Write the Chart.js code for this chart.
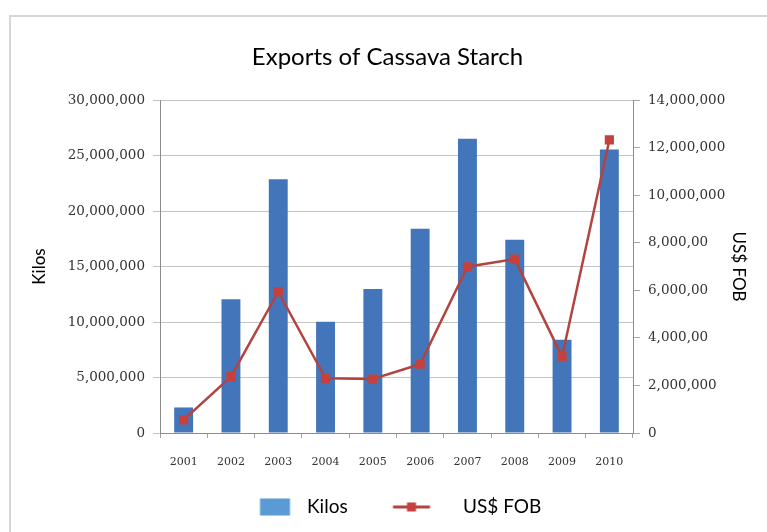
<!DOCTYPE html>
<html>
<head>
<meta charset="utf-8">
<title>Exports of Cassava Starch</title>
<script src="https://cdn.jsdelivr.net/npm/chart.js@4"></script>
<style>
  html, body { margin: 0; padding: 0; background: #fff; }
  #wrap { position: relative; width: 767px; height: 532px; overflow: hidden; }
  #frame { position: absolute; left: 9px; top: 15px; width: 820px; height: 620px; border: 2px solid #d6d6d6; }
  #chart { position: absolute; left: 0; top: 0; }
</style>
</head>
<body>
<div id="wrap">
  <div id="frame"></div>
  <canvas id="chart" width="767" height="532"></canvas>
</div>
<script>
// yearly exports
const years = ["2001", "2002", "2003", "2004", "2005", "2006", "2007", "2008", "2009", "2010"];
const kilos = [2300000, 12050000, 22850000, 10030000, 12970000, 18400000, 26500000, 17400000, 8400000, 25550000];
const fobUsd = [550000, 2370000, 5940000, 2300000, 2270000, 2890000, 6990000, 7310000, 3210000, 12320000];

// axis labels as printed
const kilosTicks = ["0", "5,000,000", "10,000,000", "15,000,000", "20,000,000", "25,000,000", "30,000,000"];
const fobTicks = ["0", "2,000,000", "4,000,00", "6,000,00", "8,000,00", "10,000,000", "12,000,000", "14,000,000"];

const BAR_BLUE = "#4375ba";
const LINE_RED = "#b3433f";
const MARK_RED = "#c4413d";
const TICK_COLOR = "#333";
const TICK_FONT = { family: "DejaVu Serif", size: 13.5 };
const AXIS_TITLE_FONT = { family: "Lato", size: 17, lineHeight: 1 };
const LEGEND_SIZE = 19;

const W = 767, H = 532;
const plotLeft = 160, plotRight = 633, plotTop = 100, plotBottom = 433;
const yearLabelY = 462;

// legend spacing so that the entry texts start at x=307 and x=463
const mctx = document.createElement("canvas").getContext("2d");
mctx.font = LEGEND_SIZE + "px Lato";
const tw1 = mctx.measureText("Kilos").width;
const tw2 = mctx.measureText("US$ FOB").width;
const text1X = 307, text2X = 463, legendY = 507;

// full-width boxes (title, legend) are centred on x = 387.5;
// legend box height is font + gap + 10
const pad = { left: 8, right: 0, top: 0 };
const legendCenter = (pad.left + W - pad.right) / 2;
const itemGap = 2 * (legendCenter - text1X) - tw1 - tw2;
const boxW = text2X - text1X - tw1 - itemGap - LEGEND_SIZE / 2;
const legendTop = legendY - LEGEND_SIZE / 2 - itemGap;
pad.bottom = H - (legendY + LEGEND_SIZE / 2 + 10);

// swatch and line marker drawn into canvases used as legend point styles
const ICON_W = 140, ICON_H = 18;
function iconCanvas(textX) {
  const c = document.createElement("canvas");
  c.width = ICON_W; c.height = ICON_H;
  // page x of this canvas's left edge once the legend centres it in its box
  const left = textX - LEGEND_SIZE / 2 - boxW / 2 - ICON_W / 2;
  return { c, g: c.getContext("2d"), left };
}
function swatchImage() {
  const { c, g, left } = iconCanvas(text1X);
  g.fillStyle = "#5b9bd5";
  g.fillRect(260 - left, 0.5, 30, 17);
  return c;
}
function markerImage() {
  const { c, g, left } = iconCanvas(text2X);
  const x0 = 393 - left;
  g.strokeStyle = LINE_RED;
  g.lineWidth = 3;
  g.beginPath(); g.moveTo(x0, 9); g.lineTo(x0 + 37, 9); g.stroke();
  g.fillStyle = MARK_RED;
  g.fillRect(x0 + 14, 4.5, 9, 9);
  return c;
}
const legendIcons = [swatchImage(), markerImage()];

new Chart(document.getElementById("chart"), {
  type: "bar",
  data: {
    labels: years,
    datasets: [
      {
        type: "line",
        label: "US$ FOB",
        data: fobUsd,
        yAxisID: "y1",
        order: 0,
        borderColor: LINE_RED,
        borderWidth: 2.5,
        tension: 0,
        pointStyle: "rect",
        pointRadius: 6.5,
        pointBackgroundColor: MARK_RED,
        pointBorderColor: MARK_RED,
        pointBorderWidth: 0
      },
      {
        type: "bar",
        label: "Kilos",
        data: kilos,
        yAxisID: "y",
        order: 1,
        backgroundColor: BAR_BLUE,
        borderWidth: 0,
        barPercentage: 0.4,
        categoryPercentage: 1.0
      }
    ]
  },
  options: {
    responsive: false,
    animation: false,
    devicePixelRatio: 1,
    layout: { padding: pad },
    plugins: {
      title: {
        display: true,
        text: "Exports of Cassava Starch",
        color: "#000",
        font: { family: "Lato", size: 24, weight: "normal", lineHeight: 1.2 },
        padding: { top: 57 - 14.4, bottom: plotTop - 57 - 14.4 }
      },
      legend: {
        position: "bottom",
        labels: {
          usePointStyle: true,
          pointStyleWidth: boxW,
          padding: itemGap,
          color: "#000",
          font: { family: "Lato", size: LEGEND_SIZE },
          generateLabels: () => [
            { text: "Kilos", pointStyle: legendIcons[0], fontColor: "#000", lineWidth: 0, datasetIndex: 1 },
            { text: "US$ FOB", pointStyle: legendIcons[1], fontColor: "#000", lineWidth: 0, datasetIndex: 0 }
          ]
        }
      },
      tooltip: { enabled: false }
    },
    scales: {
      x: {
        grid: { drawOnChartArea: false, drawTicks: true, tickLength: 5, color: "#a0a0a0" },
        border: { color: "#8c8c8c", width: 1 },
        // mirrored with negative padding: labels sit below the axis, unclipped
        ticks: { color: TICK_COLOR, font: { family: "DejaVu Serif", size: 11 }, mirror: true, padding: -(yearLabelY - plotBottom + 6.6) },
        afterFit: (s) => { s.height = legendTop - plotBottom; }
      },
      y: {
        position: "left",
        min: 0,
        max: 30000000,
        grid: { color: "#c4c4c4", tickLength: 7 },
        border: { color: "#8c8c8c" },
        ticks: {
          stepSize: 5000000,
          color: TICK_COLOR,
          font: TICK_FONT,
          padding: 8,
          callback: (v) => kilosTicks[Math.round(v / 5000000)]
        },
        title: {
          display: true,
          text: "Kilos",
          color: "#000",
          font: AXIS_TITLE_FONT,
          padding: { top: 40 - pad.left - 8.5, bottom: 0 }
        },
        afterFit: (s) => { s.width = plotLeft - pad.left; }
      },
      y1: {
        position: "right",
        min: 0,
        max: 14000000,
        grid: { drawOnChartArea: false, tickLength: 7, color: "#a8a8a8" },
        border: { color: "#8c8c8c" },
        ticks: {
          stepSize: 2000000,
          color: TICK_COLOR,
          font: TICK_FONT,
          padding: 8,
          callback: (v) => fobTicks[Math.round(v / 2000000)]
        },
        title: {
          display: true,
          text: "US$ FOB",
          color: "#000",
          font: AXIS_TITLE_FONT,
          padding: { top: (W - pad.right) - 738 - 8.5, bottom: 0 }
        },
        afterFit: (s) => { s.width = (W - pad.right) - plotRight; }
      }
    }
  }
});
</script>
</body>
</html>
